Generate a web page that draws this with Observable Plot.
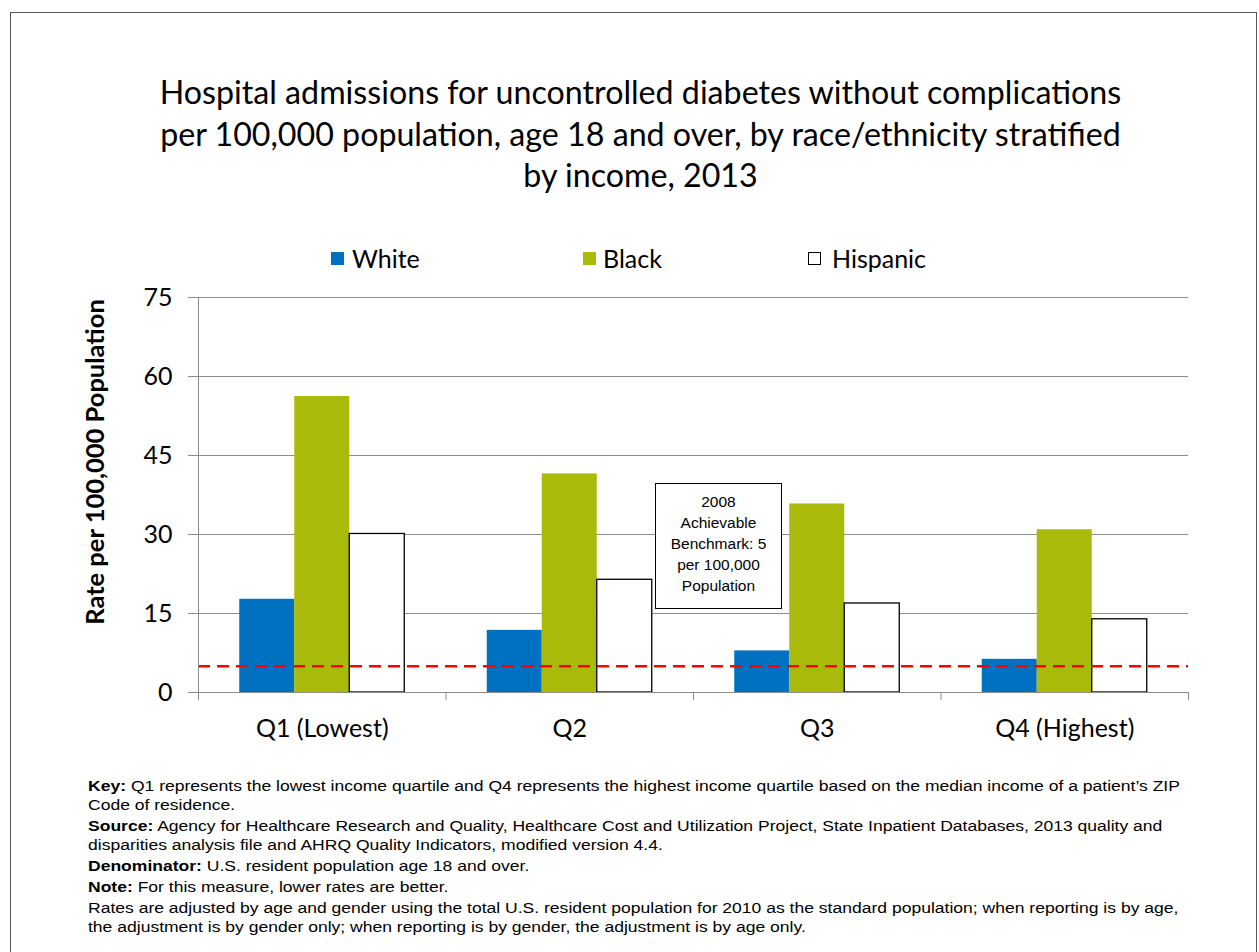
<!DOCTYPE html>
<html>
<head>
<meta charset="utf-8">
<script src="https://cdn.jsdelivr.net/npm/d3@7"></script>
<script src="https://cdn.jsdelivr.net/npm/@observablehq/plot@0.6"></script>
<style>
  body { margin: 0; background: #fff; }
  #page { position: relative; width: 1259px; height: 952px; overflow: hidden; background: #fff; font-family: Lato, "Open Sans", sans-serif; color: #000; }
  #border { position: absolute; left: 10px; top: 12px; width: 1247px; height: 1000px; border: 1px solid #555; box-sizing: border-box; }
  #title { position: absolute; left: 0; top: 71px; width: 1281px; text-align: center; font-size: 32.2px; line-height: 41.5px; }
  .leg { position: absolute; top: 244px; font-size: 25px; line-height: 28px; display: flex; align-items: center; white-space: nowrap; }
  .sw { width: 13px; height: 13px; flex: 0 0 13px; box-sizing: border-box; }
  #chart { position: absolute; left: 0; top: 280px; }
  #note { position: absolute; left: 655px; top: 483px; width: 127px; height: 126px; box-sizing: border-box; border: 1.5px solid #000; background: #fff; font-family: "Liberation Sans", Arial, sans-serif; font-size: 15.5px; line-height: 21px; text-align: center; padding-top: 7px; }
  #foot { position: absolute; left: 88px; top: 777px; font-family: "Liberation Sans", Arial, sans-serif; font-size: 14px; line-height: 19.3px; transform: scaleX(1.252); transform-origin: 0 0; white-space: nowrap; }
  #foot p { margin: 0 0 1.5px 0; }
</style>
</head>
<body>
<div id="page">
  <div id="border"></div>
  <div id="title">Hospital admissions for uncontrolled diabetes without complications<br>per 100,000 population, age 18 and over, by race/ethnicity stratified<br>by income, 2013</div>
  <div id="legend"></div>
  <div id="chart"></div>
  <div id="note">2008<br>Achievable<br>Benchmark: 5<br>per 100,000<br>Population</div>
  <div id="foot">
    <p><b>Key:</b> Q1 represents the lowest income quartile and Q4 represents the highest income quartile based on the median income of a patient’s ZIP<br>Code of residence.</p>
    <p><b>Source:</b> Agency for Healthcare Research and Quality, Healthcare Cost and Utilization Project, State Inpatient Databases, 2013 quality and<br>disparities analysis file and AHRQ Quality Indicators, modified version 4.4.</p>
    <p><b>Denominator:</b> U.S. resident population age 18 and over.</p>
    <p><b>Note:</b> For this measure, lower rates are better.</p>
    <p>Rates are adjusted by age and gender using the total U.S. resident population for 2010 as the standard population; when reporting is by age,<br>the adjustment is by gender only; when reporting is by gender, the adjustment is by age only.</p>
  </div>
</div>
<script>
// ---- data ----
const quartiles = ["Q1 (Lowest)", "Q2", "Q3", "Q4 (Highest)"];
const races = ["White", "Black", "Hispanic"];
const white = [17.7, 11.8, 7.9, 6.3];
const black = [56.2, 41.5, 35.8, 30.9];
const hispanic = [30.1, 21.4, 16.9, 13.9];
const benchmark = 5;
const yTicks = [0, 15, 30, 45, 60, 75];
const colors = ["#0070C0", "#A9BA0A", "#FFFFFF"];

// ---- table ----
const series = [white, black, hispanic];
const rows = [];
quartiles.forEach((q, qi) => races.forEach((r, ri) => rows.push({quartile: q, race: r, value: series[ri][qi], qi, ri})));
const groupPad = 1 / 6, barW = 2 / 9;
const x1 = d => d.qi + groupPad + d.ri * barW;
const x2 = d => d.qi + groupPad + (d.ri + 1) * barW;
const bandEdges = d3.range(quartiles.length + 1);
const bandCenters = quartiles.map((q, i) => i + 0.5);

// ---- legend ----
const legendPos = [[331, 352], [583, 603], [808, 832]];
const legend = document.getElementById("legend");
races.forEach((r, i) => {
  const item = document.createElement("div");
  item.className = "leg";
  item.style.left = legendPos[i][0] + "px";
  const sw = document.createElement("div");
  sw.className = "sw";
  sw.style.background = colors[i];
  if (r === "Hispanic") sw.style.border = "1px solid #000";
  sw.style.marginRight = (legendPos[i][1] - legendPos[i][0] - 13) + "px";
  item.appendChild(sw);
  item.appendChild(document.createTextNode(r));
  legend.appendChild(item);
});

// ---- chart ----
const gray = "#8c8c8c";
const chart = Plot.plot({
  width: 1259,
  height: 472,
  marginLeft: 198,
  marginRight: 71,
  marginTop: 17,
  marginBottom: 60,
  style: {fontFamily: "Lato, 'Open Sans', sans-serif", fontSize: "25px", color: "#000", background: "transparent"},
  x: {type: "linear", domain: [0, quartiles.length], axis: null},
  y: {domain: [0, 75], axis: null},
  marks: [
    Plot.gridY(yTicks, {stroke: gray, strokeOpacity: 1, strokeWidth: 1}),
    Plot.rectY(rows.filter(d => d.race !== "Hispanic"), {x1, x2, y: "value", fill: d => colors[d.ri]}),
    Plot.rectY(rows.filter(d => d.race === "Hispanic"), {x1, x2, y: "value", fill: d => colors[d.ri], stroke: "#000", strokeWidth: 1.3}),
    Plot.ruleY([benchmark], {stroke: "#FF0000", strokeWidth: 2.5, strokeDasharray: "12,7"}),
    Plot.ruleX([0], {stroke: gray}),
    Plot.ruleY([0], {stroke: gray}),
    Plot.axisY(yTicks, {tickSize: 10, tickPadding: 16, stroke: gray, fill: "#000", tickFormat: d => d, label: null, fontSize: 25}),
    Plot.axisX(bandEdges, {tickSize: 8, stroke: gray, tickFormat: () => "", label: null}),
    Plot.axisX(bandCenters, {tickSize: 0, tickPadding: 27, tickFormat: d => quartiles[d - 0.5], label: null, fill: "#000", fontSize: 25}),
    Plot.text(["Rate per 100,000 Population"], {frameAnchor: "left", textAnchor: "middle", dx: -103, dy: -33, rotate: -90, fontWeight: "bold", fontSize: 25.5, fill: "#000"})
  ]
});
document.getElementById("chart").appendChild(chart);
</script>
</body>
</html>
